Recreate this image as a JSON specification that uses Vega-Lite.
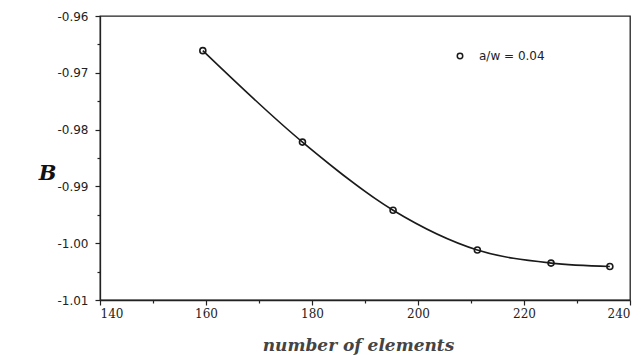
{
  "$schema": "https://vega.github.io/schema/vega-lite/v6.json",
  "width": 530,
  "height": 284,
  "autosize": "none",
  "padding": {"left": 100, "top": 16, "right": 12, "bottom": 55},
  "background": "white",
  "config": {
    "view": {"stroke": "#222", "strokeWidth": 1.3},
    "axis": {"grid": false, "domainColor": "#222", "tickColor": "#222", "domainWidth": 1.3, "tickWidth": 1.2, "labelColor": "#222"}
  },
  "data": {
    "values": [
      {"elements": 159.4, "B": -0.9661, "series": "a/w = 0.04"},
      {"elements": 178.2, "B": -0.9822, "series": "a/w = 0.04"},
      {"elements": 195.3, "B": -0.9942, "series": "a/w = 0.04"},
      {"elements": 211.2, "B": -1.0012, "series": "a/w = 0.04"},
      {"elements": 225.1, "B": -1.0035, "series": "a/w = 0.04"},
      {"elements": 236.2, "B": -1.0041, "series": "a/w = 0.04"}
    ]
  },
  "layer": [
    {
      "mark": {"type": "line", "interpolate": "monotone", "color": "#1a1a1a", "strokeWidth": 1.6},
      "encoding": {
        "x": {
          "field": "elements", "type": "quantitative",
          "scale": {"domain": [140, 240], "nice": false, "zero": false},
          "axis": {
            "values": [140, 160, 180, 200, 220, 240],
            "tickSize": 5, "labelPadding": 3,
            "labelFont": "DejaVu Serif", "labelFontSize": 12,
            "title": "number of elements",
            "titleFont": "DejaVu Serif", "titleFontStyle": "italic", "titleFontWeight": "bold",
            "titleFontSize": 17, "titleColor": "#444",
            "titleX": 258, "titleY": 45, "titleBaseline": "middle"
          }
        },
        "y": {
          "field": "B", "type": "quantitative",
          "scale": {"domain": [-1.01, -0.96], "nice": false, "zero": false},
          "axis": {
            "values": [-0.96, -0.97, -0.98, -0.99, -1.0, -1.01],
            "format": ".2f",
            "labelExpr": "replace(datum.label, '\u2212', '-')",
            "tickSize": 5, "labelPadding": 7,
            "labelFont": "DejaVu Sans", "labelFontSize": 12,
            "title": "B",
            "titleFont": "DejaVu Serif", "titleFontStyle": "italic", "titleFontWeight": "bold",
            "titleFontSize": 21, "titleColor": "#111",
            "titleAngle": 0, "titleAlign": "center", "titleBaseline": "middle",
            "titleX": -53, "titleY": 157
          }
        }
      }
    },
    {
      "mark": {"type": "point", "filled": false, "color": "#1a1a1a", "size": 36, "strokeWidth": 1.6, "opacity": 1},
      "encoding": {
        "x": {
          "field": "elements", "type": "quantitative",
          "axis": {"orient": "bottom", "offset": 0, "values": [150, 170, 190, 210, 230], "labels": false, "domain": false, "tickSize": 3, "title": null}
        },
        "y": {
          "field": "B", "type": "quantitative",
          "axis": {"orient": "left", "offset": 0, "values": [-0.965, -0.975, -0.985, -0.995, -1.005], "labels": false, "domain": false, "tickSize": 3, "title": null}
        },
        "shape": {
          "field": "series", "type": "nominal",
          "scale": {"range": ["circle"]},
          "legend": {
            "title": null, "orient": "none", "legendX": 354, "legendY": 34,
            "padding": 0, "symbolSize": 30, "symbolStrokeWidth": 1.5,
            "symbolStrokeColor": "#1a1a1a", "symbolFillColor": "white",
            "labelFont": "DejaVu Sans", "labelFontSize": 12, "labelColor": "#222",
            "labelOffset": 13
          }
        }
      }
    }
  ],
  "resolve": {"axis": {"x": "independent", "y": "independent"}}
}
